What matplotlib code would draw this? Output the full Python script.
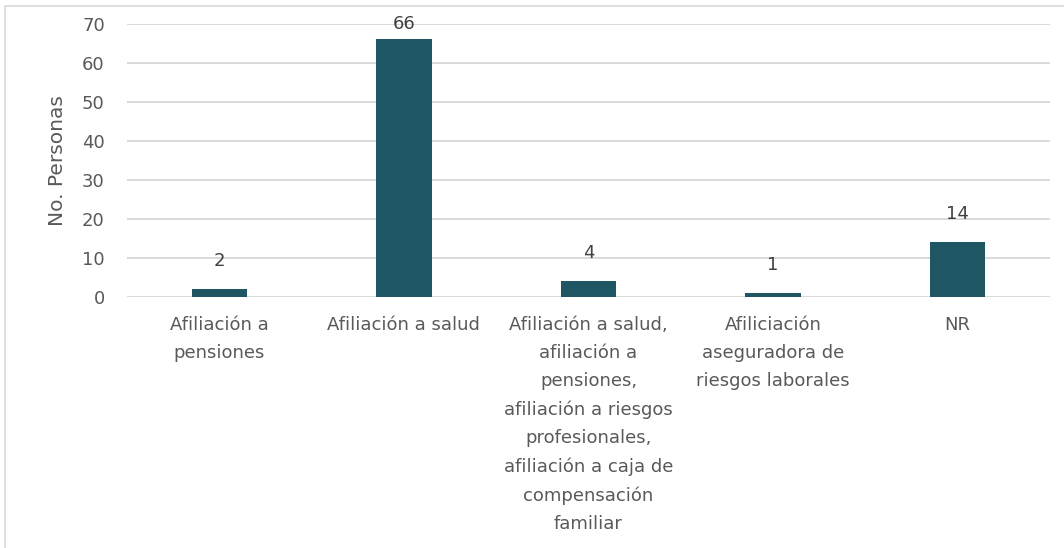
import matplotlib
matplotlib.use("Agg")
import matplotlib.pyplot as plt
from matplotlib.patches import Rectangle

categories = [
    "Afiliación a\npensiones",
    "Afiliación a salud",
    "Afiliación a salud,\nafiliación a\npensiones,\nafiliación a riesgos\nprofesionales,\nafiliación a caja de\ncompensación\nfamiliar",
    "Afiliciación\naseguradora de\nriesgos laborales",
    "NR",
]
personas = [2, 66, 4, 1, 14]
yticks = [0, 10, 20, 30, 40, 50, 60, 70]

BAR = "#1f5663"
GRID = "#d9d9d9"
TXT = "#595959"

plt.rcParams["font.family"] = ["DejaVu Sans"]

fig = plt.figure(figsize=(10.64, 5.48), dpi=100)
W, H = 1064, 548
ax = fig.add_axes([127 / W, 1 - 296.7 / H, (1050 - 127) / W, (296.7 - 23.7) / H])

# chart area border (cropped at right/bottom)
fig.patches.append(Rectangle((5 / W, -0.1), 1.2, 1 - 6 / H + 0.1, transform=fig.transFigure,
                             fill=False, edgecolor=GRID, linewidth=1.2))

x = range(len(categories))
ax.bar(x, personas, width=0.30, color=BAR, zorder=3)

ax.set_ylim(0, 70)
ax.set_xlim(-0.5, len(categories) - 0.5)
ax.set_yticks(yticks)
ax.yaxis.grid(True, color=GRID, linewidth=1.4, zorder=0)
for s in ax.spines.values():
    s.set_visible(False)
ax.tick_params(axis="both", length=0, colors=TXT, labelsize=13)
ax.tick_params(axis="y", pad=16)
ax.tick_params(axis="x", pad=14)
ax.set_xticks(list(x))
ax.set_xticklabels(categories, linespacing=1.72, color=TXT, fontsize=13)
ax.set_ylabel("No. Personas", fontsize=14.5, color=TXT, labelpad=11)

for i, v in enumerate(personas):
    ax.text(i, min(v + 7.2, 70), str(v), ha="center", va="center", fontsize=13,
            color="#404040", zorder=4)

fig.savefig("out.png", dpi=100, facecolor="white")
